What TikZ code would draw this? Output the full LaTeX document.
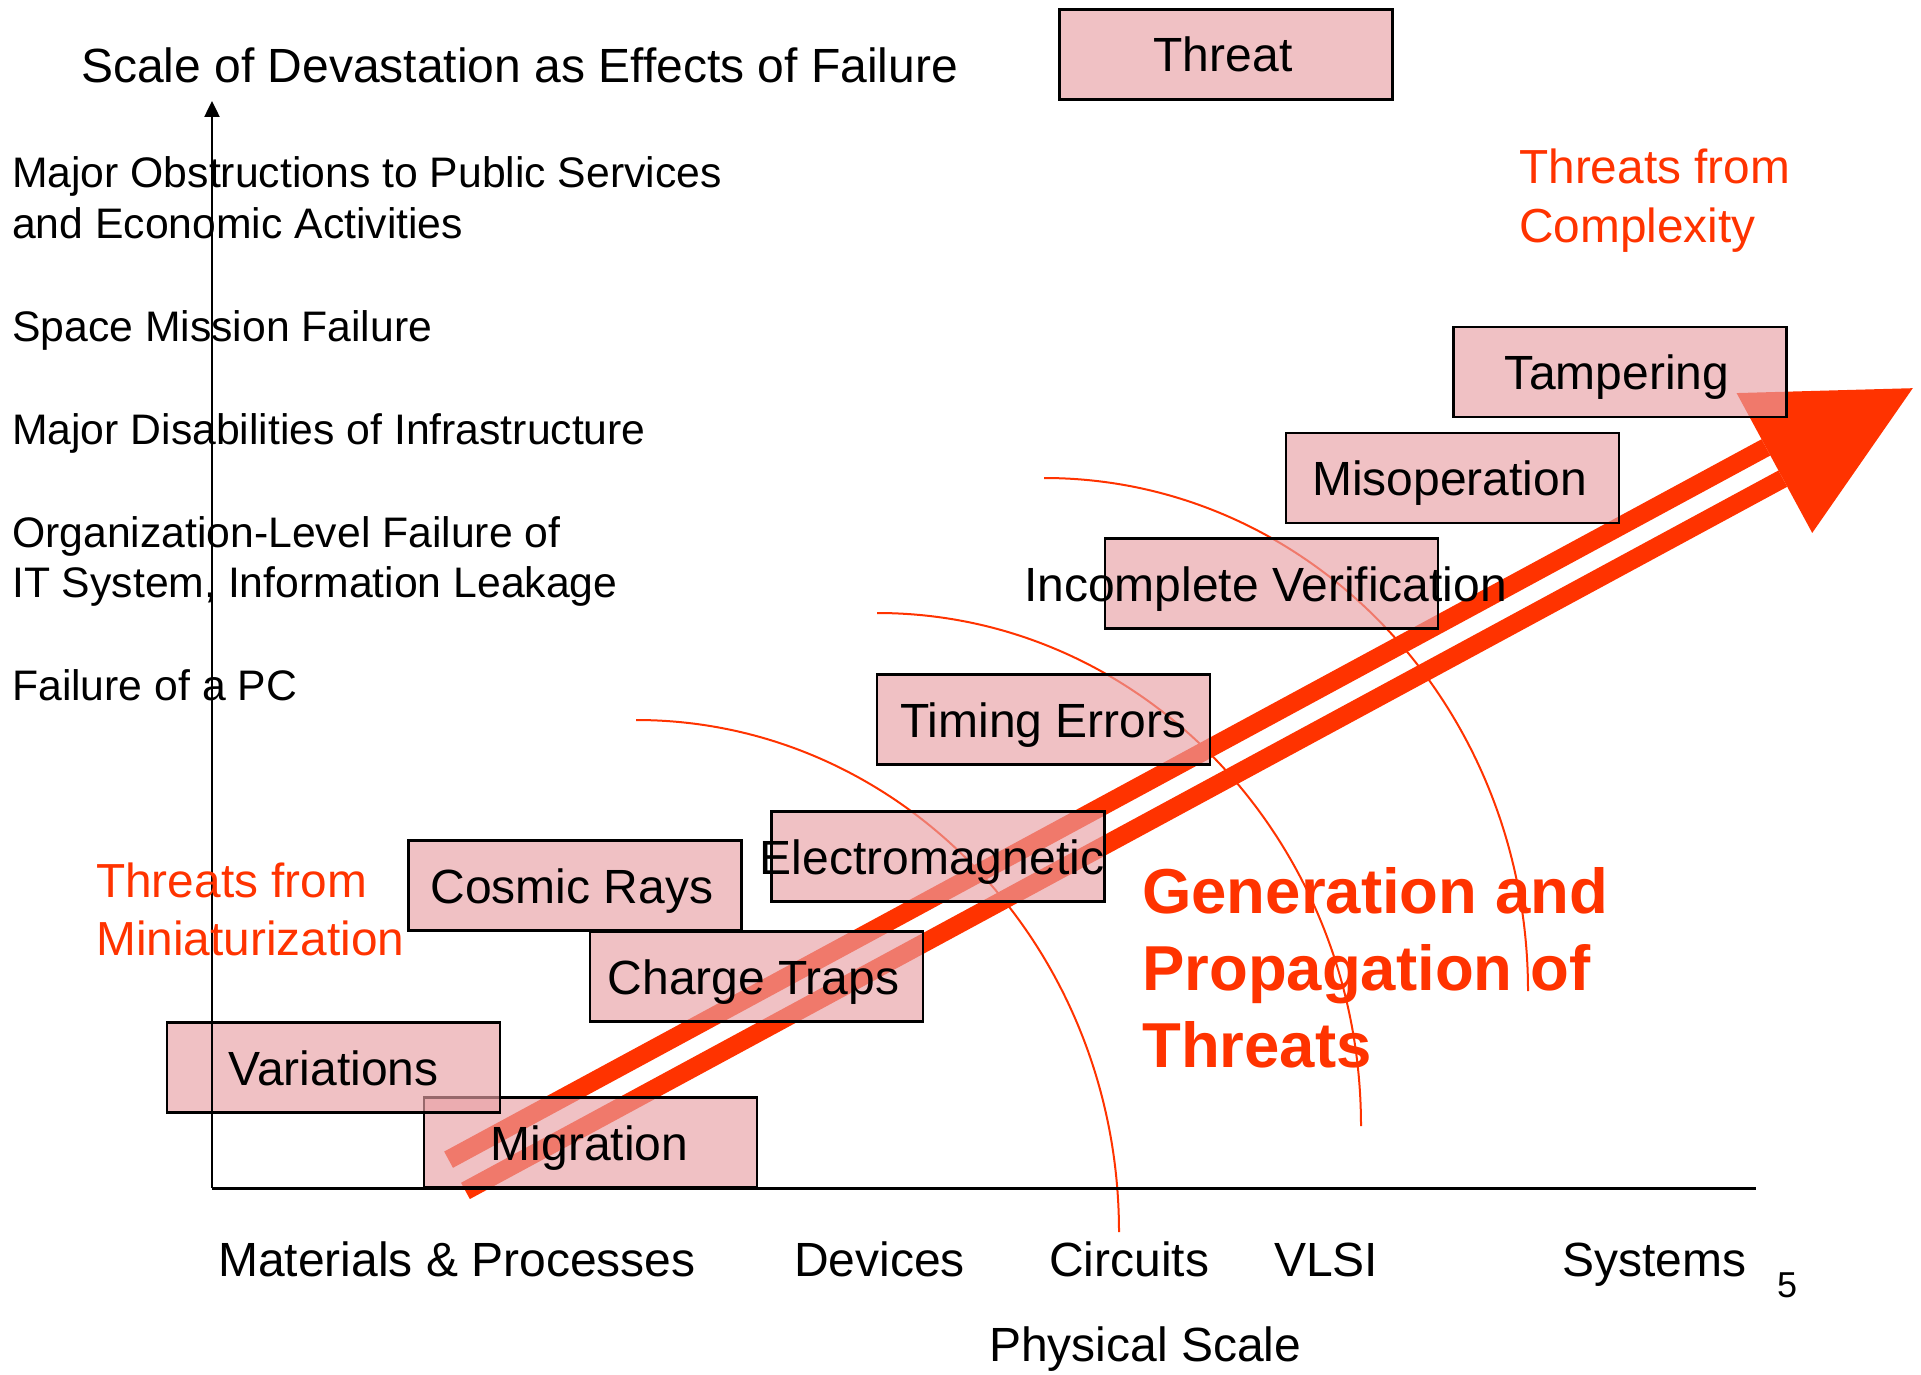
\documentclass[tikz,border=0pt]{standalone}
\usepackage{fontspec}
\setmainfont{Liberation Sans}
\usetikzlibrary{arrows.meta}
\definecolor{thr}{RGB}{255,51,0}
\definecolor{boxpink}{RGB}{232,160,165}
\begin{document}
\begin{tikzpicture}[x=1pt,y=-1pt,
  threatbox/.style={draw=black, line width=2.5pt, fill=boxpink, fill opacity=0.65,
    minimum width=333pt, minimum height=90pt, inner sep=0pt},
  boxlabel/.style={anchor=base, inner sep=0pt, font=\fontsize{48}{56}\selectfont},
  sidelabel/.style={anchor=base west, inner sep=0pt, font=\fontsize{42.7}{50}\selectfont},
  axislabel/.style={anchor=base west, inner sep=0pt, font=\fontsize{48}{57}\selectfont},
  redlabel/.style={anchor=base west, inner sep=0pt, text=thr, font=\fontsize{47.8}{57}\selectfont},
  boldlabel/.style={anchor=base west, inner sep=0pt, text=thr, font=\fontsize{63.5}{76}\selectfont\bfseries},
  scopeline/.style={draw=thr, line width=2pt}
]
\useasboundingbox (0,0) rectangle (1921,1375);

% arcs
\coordinate (arcA) at (636,720);
\coordinate (arcB) at (877,613);
\coordinate (arcC) at (1044,478);
\draw[scopeline] (arcA) arc[start angle=90, end angle=0, x radius=483pt, y radius=512pt];
\draw[scopeline] (arcB) arc[start angle=90, end angle=0, x radius=484pt, y radius=513pt];
\draw[scopeline] (arcC) arc[start angle=90, end angle=0, x radius=484pt, y radius=513pt];

% big arrow
\begin{scope}[shift={(457,1175.3)}, rotate=28.4]
  \fill[thr] (0,-27) rectangle (1497.7,-8.5);
  \fill[thr] (0,8.5) rectangle (1497.7,27);
  \fill[thr] (1497.7,-79.5) -- (1655,0) -- (1497.7,79.5) -- cycle;
\end{scope}

% boxes
\node[threatbox] (threat) at (1226,54.5) {};
\node[threatbox] (tamper) at (1620,372) {};
\node[threatbox] (misop) at (1452.5,478) {};
\node[threatbox] (incver) at (1271.5,583.5) {};
\node[threatbox] (timing) at (1043.5,719.5) {};
\node[threatbox] (emag) at (938,856.5) {};
\node[threatbox] (cosmic) at (575,885.5) {};
\node[threatbox] (charge) at (756.5,976.5) {};
\node[threatbox] (migr) at (590.5,1142.5) {};
\node[threatbox] (var) at (333.5,1067.5) {};

% box labels
\node[boxlabel] (threatT) at ([xshift=-3pt,yshift=-17.5pt]threat.center) {Threat};
\node[boxlabel] (tamperT) at ([xshift=-3pt,yshift=-17.5pt]tamper.center) {Tampering};
\node[boxlabel] (misopT) at ([xshift=-3pt,yshift=-17.5pt]misop.center) {Misoperation};
\node[boxlabel] (incverT) at ([xshift=-6pt,yshift=-17.5pt]incver.center) {Incomplete Verification};
\node[boxlabel] (timingT) at ([xshift=0pt,yshift=-17.5pt]timing.center) {Timing Errors};
\node[boxlabel] (emagT) at ([xshift=-6pt,yshift=-17.5pt]emag.center) {Electromagnetic};
\node[boxlabel] (cosmicT) at ([xshift=-3pt,yshift=-17.5pt]cosmic.center) {Cosmic Rays};
\node[boxlabel] (chargeT) at ([xshift=-3pt,yshift=-17.5pt]charge.center) {Charge Traps};
\node[boxlabel] (migrT) at ([xshift=-1pt,yshift=-17.5pt]migr.center) {Migration};
\node[boxlabel] (varT) at ([xshift=0pt,yshift=-17.5pt]var.center) {Variations};

% axes
\coordinate (O) at (212,1188);
\coordinate (ytop) at (212,101);
\coordinate (xend) at (1756,1188);
\draw[line width=2.5pt, -{Triangle[length=16pt,width=15pt]}] (O) -- (ytop);
\draw[line width=3pt] (O) -- (xend);

% title and side labels
\node[axislabel] (title) at (81,83) {Scale of Devastation as Effects of Failure};
\node[sidelabel] (s1) at (12,188) {Major Obstructions to Public Services};
\node[sidelabel] (s2) at (12,238) {and Economic Activities};
\node[sidelabel] (s3) at (12,341) {Space Mission Failure};
\node[sidelabel] (s4) at (12,444) {Major Disabilities of Infrastructure};
\node[sidelabel] (s5) at (12,547) {Organization-Level Failure of};
\node[sidelabel] (s6) at (12,597) {IT System, Information Leakage};
\node[sidelabel] (s7) at (12,700) {Failure of a PC};

% bottom labels
\node[axislabel] (b1) at (218,1276) {Materials \& Processes};
\node[axislabel] (b2) at (794,1276) {Devices};
\node[axislabel] (b3) at (1049,1276) {Circuits};
\node[axislabel] (b4) at (1274,1276) {VLSI};
\node[axislabel] (b5) at (1562,1276) {Systems};
\node[axislabel] (phys) at (989,1361) {Physical Scale};
\node[anchor=base west, inner sep=0pt, font=\fontsize{36}{40}\selectfont] (pg) at (1777,1297) {5};

% red labels
\node[redlabel] (c1) at (1519,184) {Threats from};
\node[redlabel] (c2) at (1519,242) {Complexity};
\node[redlabel] (m1) at (96,897) {Threats from};
\node[redlabel] (m2) at (96,955) {Miniaturization};
\node[boldlabel] (g1) at (1142,913) {Generation and};
\node[boldlabel] (g2) at (1142,990) {Propagation of};
\node[boldlabel] (g3) at (1142,1067) {Threats};
\end{tikzpicture}
\end{document}
